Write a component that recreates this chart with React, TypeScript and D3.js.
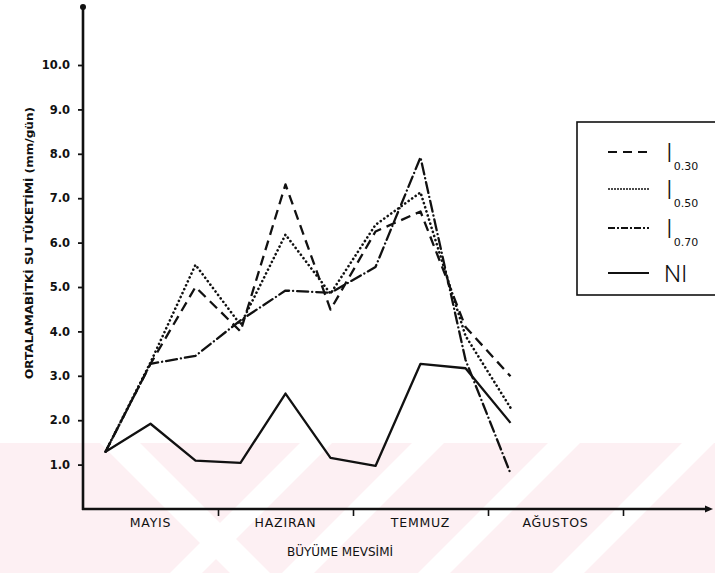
import React, { useEffect, useRef } from 'react';
import * as d3 from 'd3';

// 10-day periods (3 per month), values in mm/gün
const periods = [0, 1, 2, 3, 4, 5, 6, 7, 8, 9];
const i030 = [1.29, 3.27, 5.0, 4.0, 7.31, 4.49, 6.25, 6.7, 4.1, 2.99];
const i050 = [1.29, 3.3, 5.5, 4.15, 6.18, 4.85, 6.4, 7.13, 3.9, 2.28];
const i070 = [1.29, 3.27, 3.45, 4.25, 4.92, 4.87, 5.45, 7.92, 3.36, 0.8];
const ni = [1.29, 1.92, 1.09, 1.04, 2.6, 1.15, 0.97, 3.27, 3.17, 1.94];

const months = ['MAYIS', 'HAZIRAN', 'TEMMUZ', 'AĞUSTOS'];
const monthTicks = [3, 6, 9, 12];
const yTicks = [1, 2, 3, 4, 5, 6, 7, 8, 9, 10];
const yTickLabels = ['1.0', '2.0', '3.0', '4.0', '5.0', '6.0', '7.0', '8.0', '9.0', '10.0'];

const seriesNames = ['0.30', '0.50', '0.70', 'NI'];
const yTitle = 'ORTALAMABİTKİ SU TÜKETİMİ (mm/gün)';
const xTitle = 'BÜYÜME MEVSİMİ';

const W = 715;
const H = 573;

export default function App() {
  const yAxisRef = useRef<SVGGElement>(null);
  const xAxisRef = useRef<SVGGElement>(null);

  const x = d3.scaleLinear().domain([0, 12]).range([83, 623]);
  const y = d3.scaleLinear().domain([0, 10]).range([509, 65]);

  const line = (vals: number[]) =>
    d3.line<number>()
      .x((_, i) => x(periods[i] + 0.5))
      .y(d => y(d))(vals) || '';

  const series = [
    { vals: i030, dash: '10 6', cap: 'butt' },
    { vals: i050, dash: '0.1 4.2', cap: 'round' },
    { vals: i070, dash: '11 4 0.1 4', cap: 'round' },
    { vals: ni, dash: '', cap: 'butt' },
  ];

  useEffect(() => {
    if (yAxisRef.current) {
      const ya = d3.axisLeft(y)
        .tickValues(yTicks)
        .tickSize(5)
        .tickSizeOuter(0)
        .tickPadding(8)
        .tickFormat((_, i) => yTickLabels[i]);
      const g = d3.select(yAxisRef.current).call(ya);
      g.select('.domain').remove();
      g.selectAll('line').attr('stroke', '#111').attr('stroke-width', 1.8);
      g.selectAll('text')
        .attr('fill', '#111')
        .style('font-family', 'DejaVu Sans, sans-serif')
        .style('font-weight', 'bold')
        .style('font-size', '11.5px');
    }
    if (xAxisRef.current) {
      const xa = d3.axisBottom(x)
        .tickValues(monthTicks)
        .tickSize(7)
        .tickSizeOuter(0)
        .tickFormat(() => '');
      const g = d3.select(xAxisRef.current).call(xa);
      g.select('.domain').remove();
      g.selectAll('line').attr('stroke', '#111').attr('stroke-width', 1.6);
    }
  }, []);

  // legend rows
  const legendY = [152, 189, 228, 273];

  return (
    <div style={{ position: 'absolute', left: 0, top: 0 }}>
      <svg width={W} height={H} viewBox={`0 0 ${W} ${H}`} style={{ display: 'block', background: '#fff' }}>
        {/* faint watermark band at the bottom */}
        <g>
          <rect x={0} y={443} width={W} height={H - 443} fill="#fdf0f3" />
          <polygon points="100,443 140,443 270,573 230,573" fill="#fff" />
          {[300, 412, 548, 682].map(x0 => (
            <polygon key={x0} points={`${x0},443 ${x0 + 32},443 ${x0 - 98},573 ${x0 - 130},573`} fill="#fff" />
          ))}
        </g>

        {/* axes */}
        <g ref={yAxisRef} transform="translate(83,0)" />
        <g ref={xAxisRef} transform="translate(0,509)" />
        <line x1={83} y1={7} x2={83} y2={510} stroke="#111" strokeWidth={2.6} />
        <line x1={82} y1={509} x2={708} y2={509} stroke="#111" strokeWidth={2.4} />
        <circle cx={83} cy={7} r={3} fill="#111" />
        <polygon points="713,509 705,505.5 705,512.5" fill="#111" />

        {/* series */}
        {series.map((s, k) => (
          <path
            key={k}
            d={line(s.vals)}
            fill="none"
            stroke="#111"
            strokeWidth={k === 1 ? 2.6 : 2.3}
            strokeDasharray={s.dash}
            strokeLinecap={s.cap as any}
            strokeLinejoin="round"
          />
        ))}

        {/* month labels */}
        {months.map((m, i) => (
          <text
            key={m}
            x={x(i * 3 + 1.5)}
            y={527}
            textAnchor="middle"
            fontFamily="DejaVu Sans, sans-serif"
            fontSize={12.5}
            letterSpacing={0.8}
            fill="#111"
          >
            {m}
          </text>
        ))}
        <text x={340} y={556} textAnchor="middle" fontFamily="DejaVu Sans, sans-serif" fontSize={12} fill="#111">
          {xTitle}
        </text>

        {/* y title */}
        <text
          transform="translate(33,243) rotate(-90)"
          textAnchor="middle"
          fontFamily="DejaVu Sans, sans-serif"
          fontWeight="bold"
          fontSize={10.5}
          textLength={272}
          lengthAdjust="spacingAndGlyphs"
          fill="#111"
        >
          {yTitle}
        </text>

        {/* legend */}
        <rect x={577} y={122} width={160} height={173} fill="none" stroke="#111" strokeWidth={1.6} />
        {series.map((s, k) => (
          <line
            key={k}
            x1={608}
            x2={649}
            y1={legendY[k]}
            y2={legendY[k]}
            stroke="#111"
            strokeWidth={k === 1 ? 1.4 : 1.8}
            strokeDasharray={k === 0 ? '9 6' : k === 1 ? '2 1' : k === 2 ? '7 2 2 2' : ''}
          />
        ))}
        {seriesNames.map((n, k) =>
          n === 'NI' ? (
            <text key={n} x={664} y={legendY[k] + 9} fontFamily="Roboto, DejaVu Sans, sans-serif" fontWeight={300} fontSize={24} fill="#111">
              {n}
            </text>
          ) : (
            <text key={n} x={666} y={legendY[k] + 10} fontFamily="DejaVu Sans, sans-serif" fill="#111">
              <tspan fontSize={25} fontWeight={300} fontFamily="Roboto, sans-serif">I</tspan>
              <tspan fontSize={11} dy={8} dx={1}>{n}</tspan>
            </text>
          )
        )}
      </svg>
    </div>
  );
}
